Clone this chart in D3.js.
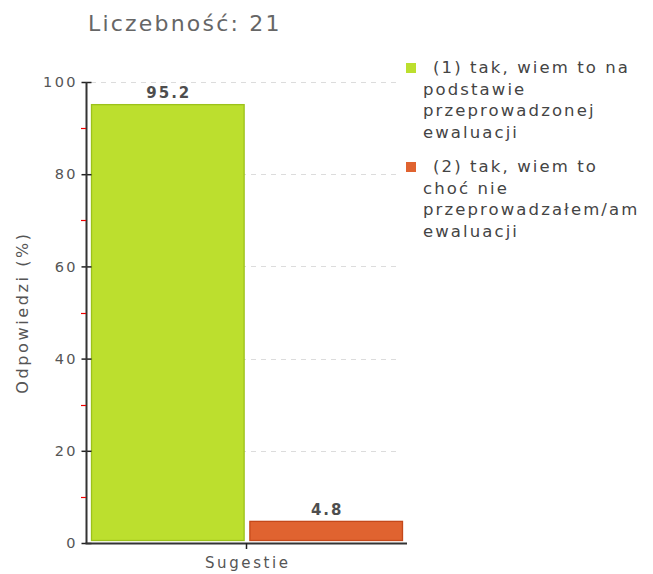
<!DOCTYPE html>
<html>
<head>
<meta charset="utf-8">
<script src="https://cdn.jsdelivr.net/npm/d3@7"></script>
<style>
  body { margin: 0; background: #fff; }
  svg { display: block; font-family: "DejaVu Sans", Verdana, sans-serif; }
</style>
</head>
<body>
<svg id="chart" width="653" height="574"></svg>
<script>
// Survey answers for one group
const categories = ["Sugestie"];
const seriesNames = [
  ["(1) tak, wiem to na", "podstawie", "przeprowadzonej", "ewaluacji"],
  ["(2) tak, wiem to", "choć nie", "przeprowadzałem/am", "ewaluacji"]
];
const seriesValues = [95.2, 4.8];
const seriesFill = ["#bcdf2e", "#e06330"];
const seriesStroke = ["#9cc21a", "#c4481a"];
const yTicks = [0, 20, 40, 60, 80, 100];
const yMinorTicks = [10, 30, 50, 70, 90];
const titleText = "Liczebność: 21";
const yTitle = "Odpowiedzi (%)";

const svg = d3.select("#chart");
const plotLeft = 86, plotRight = 407, plotTop = 82, plotBottom = 543;

const y = d3.scaleLinear().domain([0, 100]).range([plotBottom, plotTop]);
const x0 = d3.scaleBand().domain(categories).range([plotLeft, plotRight]).padding(0);
const x1 = d3.scaleBand().domain(d3.range(seriesValues.length))
  .range([x0(categories[0]) + 5, x0(categories[0]) + x0.bandwidth() - 4])
  .paddingInner(0.03);

// title
svg.append("text").attr("x", 88).attr("y", 31)
  .attr("font-size", 22).attr("fill", "#666").attr("letter-spacing", 2.2)
  .text(titleText);

// dashed gridlines
svg.append("g").selectAll("line").data(yTicks.filter(d => d > 0)).join("line")
  .attr("x1", plotLeft + 5).attr("x2", 398)
  .attr("y1", d => Math.round(y(d)) + 0.5).attr("y2", d => Math.round(y(d)) + 0.5)
  .attr("stroke", "#dcdcdc").attr("stroke-dasharray", "5,5");

// bars
svg.append("g").selectAll("rect").data(seriesValues).join("rect")
  .attr("x", (d, i) => x1(i) + 0.5)
  .attr("y", d => y(d) + 0.5)
  .attr("width", x1.bandwidth() - 1)
  .attr("height", d => y(0) - y(d) - 3)
  .attr("fill", (d, i) => seriesFill[i])
  .attr("stroke", (d, i) => seriesStroke[i]).attr("stroke-width", 1.3);

// value labels
svg.append("g").selectAll("text").data(seriesValues).join("text")
  .attr("x", (d, i) => x1(i) + x1.bandwidth() / 2 + 1)
  .attr("y", d => y(d) - 6)
  .attr("text-anchor", "middle").attr("font-size", 15).attr("letter-spacing", 2)
  .attr("fill", "#222").attr("font-weight", "bold").attr("opacity", 0.8)
  .text(d => d.toFixed(1));

// y axis
const yAxis = svg.append("g").attr("transform", `translate(${plotLeft + 0.5},0)`)
  .call(d3.axisLeft(y).tickValues(yTicks).tickSize(5).tickPadding(3.5).tickFormat(d3.format("d")));
yAxis.select(".domain").remove();
yAxis.selectAll(".tick line").attr("x1", -5).attr("x2", 5).attr("stroke", "#222").attr("stroke-width", 1.5);
yAxis.selectAll(".tick text").attr("font-size", 14.5).attr("fill", "#555").attr("letter-spacing", 2.4)
  .attr("font-family", "DejaVu Sans, Verdana, sans-serif");
svg.append("line").attr("x1", plotLeft + 0.5).attr("x2", plotLeft + 0.5)
  .attr("y1", plotTop).attr("y2", plotBottom + 1).attr("stroke", "#333").attr("stroke-width", 2);

// minor ticks
svg.append("g").selectAll("line").data(yMinorTicks).join("line")
  .attr("x1", plotLeft - 5).attr("x2", plotLeft)
  .attr("y1", d => Math.round(y(d)) + 0.5).attr("y2", d => Math.round(y(d)) + 0.5)
  .attr("stroke", "#e00").attr("stroke-width", 1.2);

// x axis
svg.append("line").attr("x1", plotLeft - 0.5).attr("x2", plotRight)
  .attr("y1", plotBottom + 0.5).attr("y2", plotBottom + 0.5).attr("stroke", "#333").attr("stroke-width", 2);
const cx = x0(categories[0]) + x0.bandwidth() / 2;
svg.append("line").attr("x1", cx).attr("x2", cx).attr("y1", plotBottom).attr("y2", plotBottom + 6)
  .attr("stroke", "#222").attr("stroke-width", 1.5);
svg.append("text").attr("x", cx + 1.3).attr("y", 568).attr("text-anchor", "middle")
  .attr("font-size", 15).attr("letter-spacing", 2.6).attr("fill", "#555").text(categories[0]);

// y title
svg.append("text").attr("transform", `translate(28,${(plotTop + plotBottom) / 2}) rotate(-90)`)
  .attr("text-anchor", "middle").attr("font-size", 16).attr("letter-spacing", 2.6)
  .attr("fill", "#555").text(yTitle);

// legend
const legendTop = [63, 162];
const lg = svg.append("g").selectAll("g").data(seriesNames).join("g")
  .attr("transform", (d, i) => `translate(406,${legendTop[i]})`);
lg.append("rect").attr("width", 10).attr("height", 10)
  .attr("fill", (d, i) => seriesFill[i]);
lg.each(function(lines) {
  const g = d3.select(this);
  lines.forEach((t, j) => {
    g.append("text").attr("x", j === 0 ? 27 : 17).attr("y", 10 + j * 21.5)
      .attr("font-size", 16.5).attr("letter-spacing", 2.1).attr("fill", "#444").text(t);
  });
});
</script>
</body>
</html>
